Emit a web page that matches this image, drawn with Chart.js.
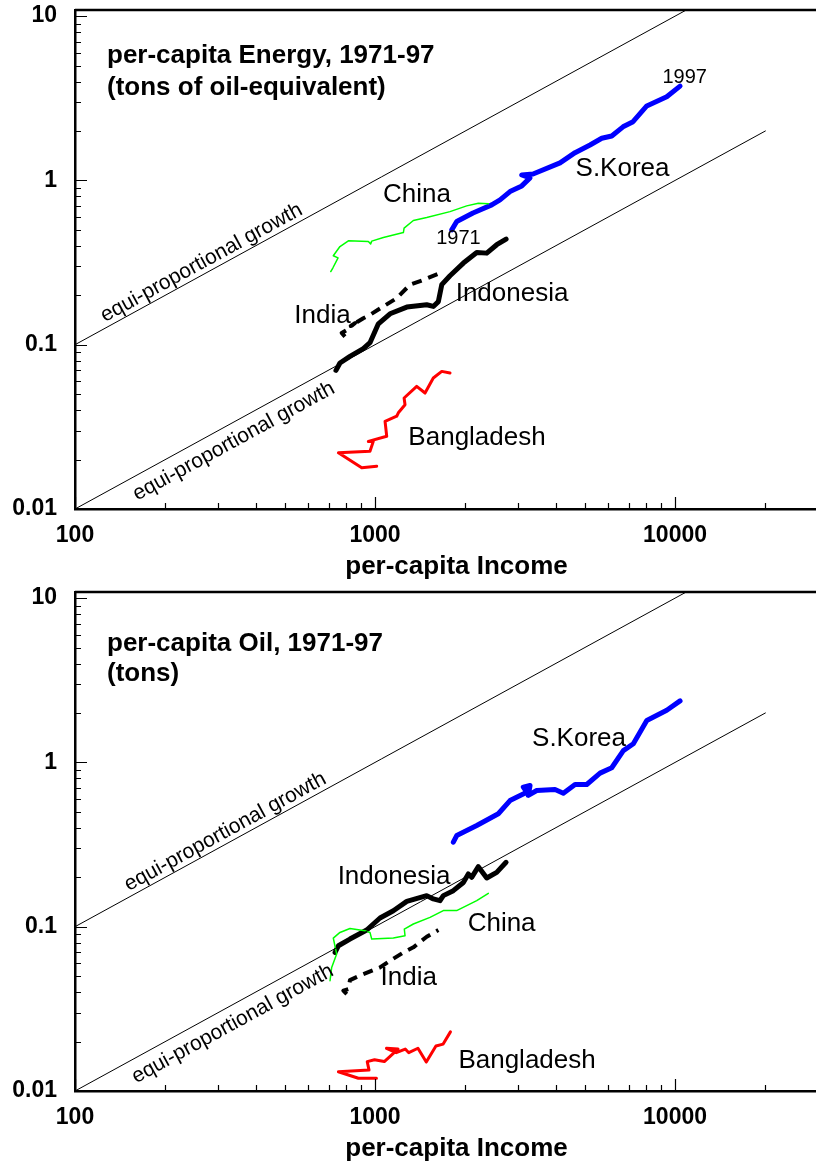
<!DOCTYPE html>
<html>
<head>
<meta charset="utf-8">
<script src="https://cdn.jsdelivr.net/npm/chart.js@4.4.1/dist/chart.umd.min.js"></script>
<style>
  html, body { margin: 0; padding: 0; background: #fff; }
  .panel { position: relative; width: 816px; height: 582px; }
</style>
</head>
<body>
<div class="panel"><canvas id="energyChart"></canvas></div>
<div class="panel"><canvas id="oilChart"></canvas></div>
<script>
// axis ticks
const incomeTicks = [100, 1000, 10000];
const valueTicks = [0.01, 0.1, 1, 10];

// equi-proportional growth guide lines (y = k * x)
const equiIncome = [100, 20000];
const equiUpper = [0.1, 20];
const equiLower = [0.01, 2];

// per-capita energy (toe) against per-capita income, 1971-97
const koreaIncomeE = [1802, 1872, 2121, 2449, 2610, 2818, 3084, 3286, 3084, 3363, 4137, 4642, 5208, 5698, 6152, 6709, 7244, 8049, 9383, 10392];
const koreaEnergy = [0.50, 0.562, 0.634, 0.710, 0.761, 0.855, 0.926, 1.036, 1.08, 1.095, 1.28, 1.476, 1.644, 1.805, 1.865, 2.12, 2.278, 2.84, 3.23, 3.75];

const chinaIncomeE = [712, 724, 753, 726, 764, 815, 950, 967, 975, 1066, 1243, 1250, 1342, 1487, 1778, 2021, 2210, 2386];
const chinaEnergy = [0.279, 0.294, 0.338, 0.348, 0.396, 0.429, 0.425, 0.411, 0.427, 0.449, 0.482, 0.512, 0.57, 0.594, 0.646, 0.70, 0.727, 0.72];

const indiaIncomeE = [794, 774, 805, 858, 830, 914, 962, 1066, 1181, 1308, 1449, 1626];
const indiaEnergy = [0.112, 0.118, 0.123, 0.1355, 0.130, 0.145, 0.152, 0.171, 0.192, 0.232, 0.248, 0.270];

const indonesiaIncomeE = [741, 764, 825, 914, 962, 1026, 1122, 1276, 1487, 1564, 1626, 1669, 1778, 1970, 2183, 2357, 2545, 2734];
const indonesiaEnergy = [0.0698, 0.0774, 0.085, 0.0947, 0.1028, 0.134, 0.1543, 0.1695, 0.175, 0.171, 0.183, 0.232, 0.263, 0.314, 0.364, 0.361, 0.406, 0.44];

const bangladeshIncomeE = [1013, 903, 755, 962, 987, 950, 1094, 1080, 1181, 1196, 1259, 1250, 1377, 1468, 1564, 1669, 1778];
const bangladeshEnergy = [0.0182, 0.0178, 0.022, 0.0225, 0.0258, 0.0258, 0.0277, 0.0342, 0.0367, 0.0385, 0.0431, 0.0474, 0.0558, 0.0508, 0.0627, 0.0688, 0.0673];

// per-capita oil (tons) against per-capita income, 1971-97
const koreaIncomeO = [1824, 1872, 2183, 2576, 2818, 3204, 3121, 3286, 3243, 3459, 3981, 4243, 4642, 5078, 5623, 6152, 6724, 7261, 8049, 9383, 10392];
const koreaOil = [0.327, 0.359, 0.413, 0.487, 0.586, 0.659, 0.707, 0.724, 0.63, 0.675, 0.684, 0.65, 0.734, 0.734, 0.861, 0.928, 1.18, 1.30, 1.80, 2.08, 2.37];

const chinaIncomeO = [708, 717, 745, 726, 764, 825, 926, 962, 975, 1151, 1259, 1252, 1342, 1525, 1689, 1871, 2183, 2386];
const chinaOil = [0.0469, 0.0565, 0.0682, 0.0853, 0.0923, 0.0976, 0.0946, 0.0923, 0.0841, 0.0853, 0.0881, 0.0968, 0.1039, 0.114, 0.1253, 0.1253, 0.144, 0.1596];

const indiaIncomeO = [805, 784, 815, 825, 914, 1039, 1122, 1243, 1342, 1487, 1626];
const indiaOil = [0.0389, 0.0408, 0.0417, 0.0473, 0.0515, 0.0565, 0.0621, 0.0697, 0.0749, 0.0869, 0.0955];

const indonesiaIncomeO = [736, 755, 825, 938, 1039, 1151, 1276, 1487, 1564, 1647, 1689, 1824, 1970, 2046, 2100, 2210, 2357, 2545, 2734];
const indonesiaOil = [0.0697, 0.0766, 0.0841, 0.0955, 0.113, 0.125, 0.1426, 0.1546, 0.1476, 0.144, 0.1546, 0.1658, 0.186, 0.2096, 0.1998, 0.232, 0.198, 0.2143, 0.2466];

const bangladeshIncomeO = [1011, 880, 755, 955, 942, 996, 1074, 1193, 1092, 1177, 1261, 1296, 1390, 1482, 1596, 1687, 1784];
const bangladeshOil = [0.01195, 0.01195, 0.0131, 0.0134, 0.0151, 0.0155, 0.0151, 0.0180, 0.0182, 0.0171, 0.0180, 0.0171, 0.0182, 0.0150, 0.0188, 0.0193, 0.0229];

const FONT = '"Liberation Sans", Arial, Helvetica, sans-serif';
Chart.defaults.font.family = FONT;
Chart.defaults.color = '#000';

function path(xs, ys) {
  return xs.map((x, i) => ({ x: x, y: ys[i] }));
}

function line(data, color, width, dash) {
  return {
    data: data,
    borderColor: color,
    borderWidth: width,
    borderDash: dash || [],
    borderJoinStyle: 'round',
    borderCapStyle: dash ? 'butt' : 'round',
    pointRadius: 0,
    fill: false,
    tension: 0
  };
}

// frame top line + inward tick marks
const frameTicks = {
  id: 'frameTicks',
  afterDraw(chart) {
    const { ctx, chartArea: a, scales: { x, y } } = chart;
    ctx.save();
    ctx.strokeStyle = '#000';
    ctx.lineWidth = 2.5;
    ctx.beginPath();
    ctx.moveTo(a.left, a.top);
    ctx.lineTo(a.right, a.top);
    ctx.stroke();

    ctx.lineWidth = 1.2;
    ctx.beginPath();
    for (let e = 2; e <= 4; e++) {
      for (let k = 1; k < 10; k++) {
        const v = k * Math.pow(10, e);
        if (v > x.max) break;
        const px = Math.round(x.getPixelForValue(v)) + 0.5;
        ctx.moveTo(px, a.bottom);
        ctx.lineTo(px, a.bottom - (k === 1 ? 12 : 6));
      }
    }
    for (let e = -2; e <= 1; e++) {
      for (let k = 1; k < 10; k++) {
        const v = k * Math.pow(10, e);
        if (v > y.max) break;
        const py = Math.round(y.getPixelForValue(v)) + 0.5;
        ctx.moveTo(a.left, py);
        ctx.lineTo(a.left + (k === 1 ? 12 : 6), py);
      }
    }
    ctx.stroke();
    ctx.restore();
  }
};

// text annotations: heading, axis title, series names, slanted guide-line labels
const notes = {
  id: 'notes',
  afterDraw(chart, args, opts) {
    const { ctx, chartArea: a, scales: { x, y } } = chart;
    ctx.save();
    ctx.fillStyle = '#000';
    ctx.textBaseline = 'middle';

    ctx.font = 'bold 26px ' + FONT;
    ctx.textAlign = 'left';
    opts.heading.forEach((t, i) => {
      ctx.fillText(t, a.left + 32, a.top + opts.headingY[i]);
    });

    ctx.textAlign = 'center';
    ctx.fillText('per-capita Income', (a.left + a.right) / 2 + 11, a.bottom + 58);

    opts.labels.forEach(l => {
      ctx.font = (l.size || 26) + 'px ' + FONT;
      ctx.fillText(l.text, x.getPixelForValue(l.x), y.getPixelForValue(l.y));
    });

    ctx.font = '21px ' + FONT;
    opts.slanted.forEach(s => {
      const x1 = x.getPixelForValue(s.x), y1 = y.getPixelForValue(s.x * s.k);
      const x2 = x.getPixelForValue(s.x * 2), y2 = y.getPixelForValue(s.x * 2 * s.k);
      const ang = Math.atan2(y2 - y1, x2 - x1);
      ctx.save();
      ctx.translate(x1, y1);
      ctx.rotate(ang);
      ctx.fillText('equi-proportional growth', 0, s.side === 'above' ? -11 : 17);
      ctx.restore();
    });
    ctx.restore();
  }
};

function makeChart(canvasId, datasets, panelNotes) {
  return new Chart(document.getElementById(canvasId), {
    type: 'line',
    data: { datasets: datasets },
    options: {
      responsive: true,
      maintainAspectRatio: false,
      animation: false,
      layout: { padding: { top: 10, right: 0, bottom: 0, left: 0 } },
      plugins: {
        legend: { display: false },
        tooltip: { enabled: false },
        notes: panelNotes
      },
      scales: {
        x: {
          type: 'logarithmic',
          min: 100,
          max: 29500,
          grid: { display: false, drawTicks: false },
          border: { display: true, color: '#000', width: 2.5 },
          afterBuildTicks: s => { s.ticks = incomeTicks.map(v => ({ value: v })); },
          afterFit: s => {
            s.height = 73;
            s.paddingLeft = 0;
            s.paddingRight = 0;
          },
          ticks: {
            autoSkip: false,
            maxRotation: 0,
            padding: 13,
            font: { size: 23, weight: 'bold' },
            callback: v => String(v)
          }
        },
        y: {
          type: 'logarithmic',
          min: 0.01,
          max: 10.9,
          grid: { display: false, drawTicks: false },
          border: { display: true, color: '#000', width: 2.5 },
          afterBuildTicks: s => { s.ticks = valueTicks.map(v => ({ value: v })); },
          afterFit: s => {
            s.width = 75;
            s.paddingTop = 0;
            s.paddingBottom = 0;
          },
          ticks: {
            autoSkip: false,
            padding: 18,
            font: { size: 23, weight: 'bold' },
            callback: v => String(v)
          }
        }
      }
    },
    plugins: [frameTicks, notes]
  });
}

document.addEventListener('DOMContentLoaded', () => {
  const guides = [
    line(path(equiIncome, equiUpper), '#000', 1),
    line(path(equiIncome, equiLower), '#000', 1)
  ];

  makeChart('energyChart', guides.concat([
    line(path(chinaIncomeE, chinaEnergy), '#00ff00', 1.5),
    line(path(bangladeshIncomeE, bangladeshEnergy), '#ff0000', 3),
    line(path(indiaIncomeE, indiaEnergy), '#000', 4, [10, 7]),
    line(path(indonesiaIncomeE, indonesiaEnergy), '#000', 5),
    line(path(koreaIncomeE, koreaEnergy), '#0000ff', 5)
  ]), {
    heading: ['per-capita Energy, 1971-97', '(tons of oil-equivalent)'],
    headingY: [46, 78],
    labels: [
      { text: 'China', x: 1380, y: 0.817 },
      { text: 'S.Korea', x: 6683, y: 1.18 },
      { text: '1997', x: 10770, y: 4.26, size: 20 },
      { text: '1971', x: 1896, y: 0.441, size: 20 },
      { text: 'India', x: 668, y: 0.150 },
      { text: 'Indonesia', x: 2862, y: 0.204 },
      { text: 'Bangladesh', x: 2188, y: 0.0272 }
    ],
    slanted: [
      { x: 275, k: 0.001, side: 'above' },
      { x: 318, k: 0.0001, side: 'below' }
    ]
  });

  makeChart('oilChart', guides.concat([
    line(path(chinaIncomeO, chinaOil), '#00ff00', 1.5),
    line(path(bangladeshIncomeO, bangladeshOil), '#ff0000', 3),
    line(path(indiaIncomeO, indiaOil), '#000', 4, [10, 7]),
    line(path(indonesiaIncomeO, indonesiaOil), '#000', 5),
    line(path(koreaIncomeO, koreaOil), '#0000ff', 5)
  ]), {
    heading: ['per-capita Oil, 1971-97', '(tons)'],
    headingY: [52, 82],
    labels: [
      { text: 'S.Korea', x: 4786, y: 1.40 },
      { text: 'Indonesia', x: 1157, y: 0.2018 },
      { text: 'China', x: 2642, y: 0.1035 },
      { text: 'India', x: 1296, y: 0.0489 },
      { text: 'Bangladesh', x: 3212, y: 0.0152 }
    ],
    slanted: [
      { x: 330, k: 0.001, side: 'above' },
      { x: 315, k: 0.0001, side: 'below' }
    ]
  });
});
</script>
</body>
</html>
